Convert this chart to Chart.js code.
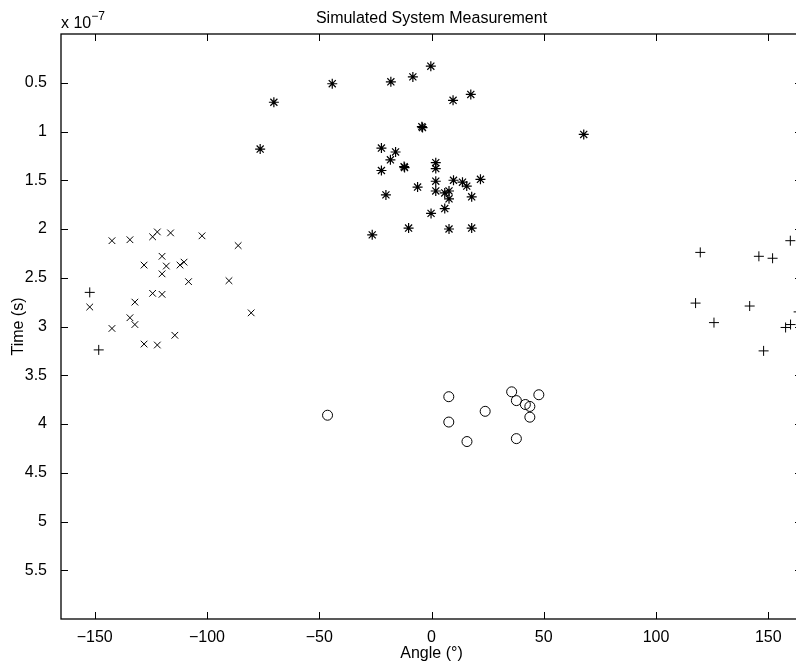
<!DOCTYPE html>
<html>
<head>
<meta charset="utf-8">
<title>Simulated System Measurement</title>
<script src="https://cdn.jsdelivr.net/npm/chart.js@4.4.1/dist/chart.umd.min.js"></script>
<style>
	html, body { margin: 0; padding: 0; background: #fff; overflow: hidden; }
	#wrap { width: 810px; height: 671px; }
</style>
</head>
<body>
<div id="wrap"><canvas id="measChart" width="810" height="671"></canvas></div>
<script>
// Zeitwerte in Einheiten von 1e-7 s
const starAngle = [-44.2, -70.2, -76.3, -18.1, -8.3, -0.3, 9.6, 17.5, 67.8, -4.3, -4.0,
	-22.3, -16.0, -18.3, -12.2, -12.0, -22.3, 1.9, 1.9, -6.2, 1.9, 9.8, 13.8, 15.7, 21.8,
	1.9, 5.9, 7.8, 7.8, 17.9, -20.3, 5.9, -0.2, -26.4, -10.2, 7.8, 17.9];
const starTime = [0.51, 0.70, 1.18, 0.49, 0.44, 0.33, 0.68, 0.62, 1.03, 0.95, 0.96,
	1.17, 1.21, 1.29, 1.36, 1.37, 1.40, 1.32, 1.38, 1.57, 1.51, 1.50, 1.52, 1.56, 1.49,
	1.61, 1.63, 1.61, 1.69, 1.67, 1.65, 1.79, 1.84, 2.06, 1.99, 2.00, 1.99];

const crossAngle = [-142.3, -134.3, -124.2, -122.1, -116.2, -102.2, -86.1, -120.0, -128.0,
	-118.1, -112.0, -110.2, -120.0, -108.2, -90.2, -124.2, -120.0, -132.1, -152.2, -80.3,
	-134.3, -132.1, -142.3, -114.3, -128.0, -122.1];
const crossTime = [2.12, 2.11, 2.08, 2.03, 2.04, 2.07, 2.17, 2.28, 2.37,
	2.38, 2.37, 2.34, 2.46, 2.54, 2.53, 2.66, 2.67, 2.75, 2.80, 2.86,
	2.91, 2.98, 3.02, 3.09, 3.18, 3.19];

const plusAngle = [-152.2, -148.2, 119.7, 145.8, 151.9, 159.8, 117.6, 141.7, 125.8, 157.7, 159.9, 147.9, 163.5];
const plusTime = [2.65, 3.24, 2.24, 2.28, 2.30, 2.12, 2.76, 2.79, 2.96, 3.01, 2.98, 3.25, 2.85];

const circleAngle = [-46.3, 7.7, 7.7, 15.8, 23.9, 35.7, 37.8, 41.8, 43.8, 47.8, 43.8, 37.8];
const circleTime = [3.91, 3.72, 3.98, 4.18, 3.87, 3.67, 3.76, 3.80, 3.82, 3.70, 3.93, 4.15];

const xTickValues = [-150, -100, -50, 0, 50, 100, 150];
const yTickValues = [0.5, 1, 1.5, 2, 2.5, 3, 3.5, 4, 4.5, 5, 5.5];

const titleText = 'Simulated System Measurement';
const xLabel = 'Angle (°)';
const yLabel = 'Time (s)';
const yExponent = '\u22127';

const fontFamily = "'Liberation Sans', Arial, Helvetica, sans-serif";

function toPoints(xs, ys) {
	return xs.map((x, i) => ({ x: x, y: ys[i] }));
}

function markerSet(xs, ys, style, radius, lw) {
	return {
		data: toPoints(xs, ys),
		showLine: false,
		pointStyle: style,
		pointRadius: radius,
		pointBorderColor: '#000',
		pointBackgroundColor: 'rgba(0,0,0,0)',
		pointBorderWidth: lw
	};
}

// Rahmen, nach innen zeigende Ticks und Beschriftungen im MATLAB-Stil
const matlabFrame = {
	id: 'matlabFrame',
	afterDraw(chart) {
		const ctx = chart.ctx;
		const a = chart.chartArea;
		const sx = chart.scales.x;
		const sy = chart.scales.y;
		const tl = 7;

		ctx.save();
		ctx.strokeStyle = '#000';
		ctx.lineWidth = 1;
		ctx.beginPath();
		xTickValues.forEach(v => {
			let px = Math.round(sx.getPixelForValue(v)) + 0.5;
			ctx.moveTo(px, a.bottom); ctx.lineTo(px, a.bottom - tl);
			ctx.moveTo(px, a.top); ctx.lineTo(px, a.top + tl);
		});
		yTickValues.forEach(v => {
			let py = Math.round(sy.getPixelForValue(v)) + 0.5;
			ctx.moveTo(a.left, py); ctx.lineTo(a.left + tl, py);
			ctx.moveTo(a.right, py); ctx.lineTo(a.right - tl, py);
		});
		ctx.stroke();

		ctx.lineWidth = 1.3;
		ctx.strokeRect(a.left, a.top, a.right - a.left, a.bottom - a.top);

		ctx.fillStyle = '#000';
		let cx = (a.left + a.right) / 2;

		ctx.font = '16px ' + fontFamily;
		ctx.textAlign = 'center';
		ctx.textBaseline = 'alphabetic';
		ctx.fillText(titleText, cx, 23);

		ctx.textBaseline = 'middle';
		ctx.fillText(xLabel, cx, 654);

		ctx.save();
		ctx.translate(19, (a.top + a.bottom) / 2);
		ctx.rotate(-Math.PI / 2);
		ctx.fillText(yLabel, 0, 0);
		ctx.restore();

		ctx.textAlign = 'left';
		ctx.textBaseline = 'alphabetic';
		let base = 'x 10';
		ctx.fillText(base, a.left, 28);
		let w = ctx.measureText(base).width;
		ctx.font = '12px ' + fontFamily;
		ctx.fillText(yExponent, a.left + w, 20);
		ctx.restore();
	}
};

let ctx = document.getElementById('measChart');

let measChart = new Chart(ctx, {
	type: 'scatter',
	data: {
		datasets: [
			markerSet(starAngle, starTime, 'star', 5, 1.2),
			markerSet(crossAngle, crossTime, 'crossRot', 4.7, 1),
			markerSet(plusAngle, plusTime, 'cross', 5, 1),
			markerSet(circleAngle, circleTime, 'circle', 5, 1)
		]
	},
	options: {
		responsive: false,
		animation: false,
		devicePixelRatio: 1,
		events: [],
		layout: {
			padding: { top: 34, right: 8, left: 0, bottom: 0 }
		},
		plugins: {
			legend: { display: false },
			tooltip: { enabled: false }
		},
		scales: {
			x: {
				type: 'linear',
				min: -165,
				max: 165,
				afterBuildTicks: scale => { scale.ticks = xTickValues.map(v => ({ value: v })); },
				afterFit: scale => { scale.height = 52; },
				grid: { display: false },
				border: { display: false },
				ticks: {
					autoSkip: false,
					maxRotation: 0,
					padding: 1,
					color: '#000',
					font: { family: fontFamily, size: 16 },
					callback: v => String(v).replace('-', '\u2212')
				}
			},
			y: {
				type: 'linear',
				reverse: true,
				min: 0,
				max: 6,
				afterBuildTicks: scale => { scale.ticks = yTickValues.map(v => ({ value: v })); },
				afterFit: scale => { scale.width = 61; },
				grid: { display: false },
				border: { display: false },
				ticks: {
					autoSkip: false,
					padding: 6,
					color: '#000',
					font: { family: fontFamily, size: 16 },
					callback: v => String(v)
				}
			}
		}
	},
	plugins: [matlabFrame]
});
</script>
</body>
</html>
